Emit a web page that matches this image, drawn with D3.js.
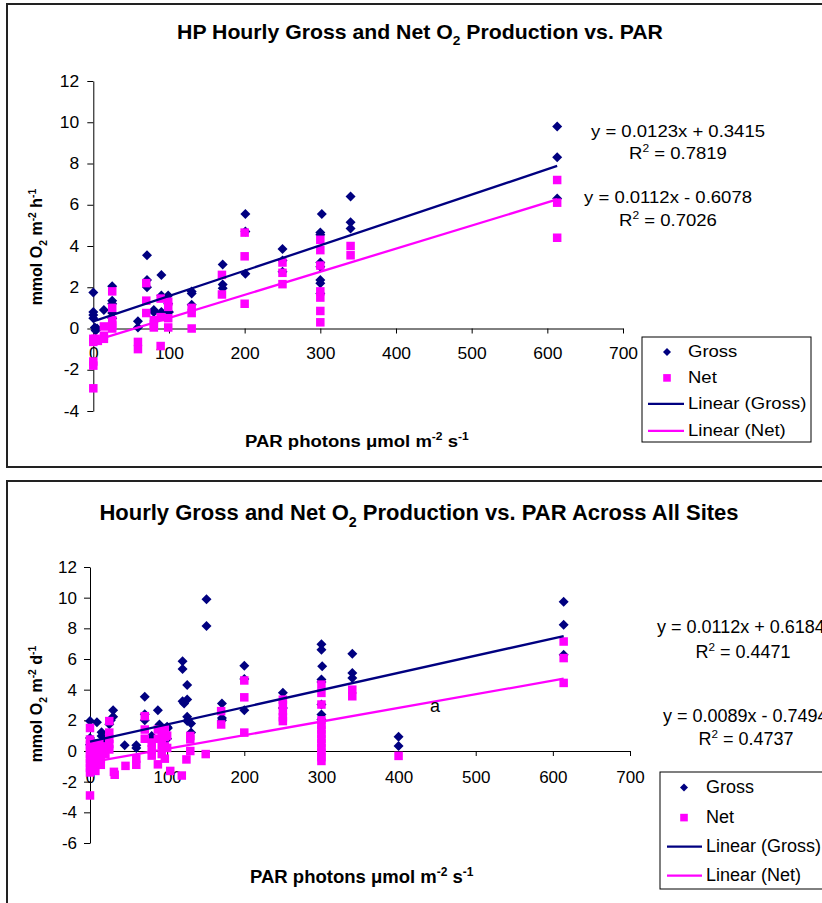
<!DOCTYPE html>
<html>
<head>
<meta charset="utf-8">
<script src="https://cdn.jsdelivr.net/npm/d3@7"></script>
<style>
body { margin: 0; background: #fff; }
svg { display: block; }
text { font-family: "Liberation Sans", Arial, sans-serif; fill: #000; }
</style>
</head>
<body>
<div id="chart"></div>
<script>
// HP site, hourly gross / net O2 production against PAR
var hpGrossPAR = [0, 0, 0, 0, 2, 4, 5, 3, 14, 25, 25, 25, 25, 25, 59, 59, 71, 71, 71, 80, 80, 90, 90, 90,
    99, 99, 100, 130, 130, 130, 171, 171, 171, 201, 201, 201, 250, 250, 250,
    302, 300, 300, 300, 300, 300, 300, 300, 340, 340, 340, 613, 613, 613];
var hpGross = [1.75, 0.8, 0.65, 0.5, 0.05, -0.05, 0.0, -0.1, 0.9, 2.05, 1.35, 1.2, 0.75, 0.5, 0.35, 0.05, 3.55, 2.35, 2.0, 0.9, 0.8, 2.6, 1.6, 0.8,
    1.6, 1.2, 0.8, 1.8, 1.7, 1.15, 3.1, 2.13, 1.95, 5.55, 4.7, 2.65, 3.85, 3.3, 2.75,
    5.55, 4.65, 4.55, 3.2, 3.0, 2.35, 2.2, 1.7, 6.4, 5.15, 4.85, 9.8, 8.3, 6.3];
var hpNetPAR = [0, 0, 0, 0, 0, 3, 6, 14, 14, 14, 25, 25, 25, 25, 25, 59, 59, 70, 70, 70, 80, 80, 80, 89, 89, 89,
    99, 99, 99, 99, 130, 130, 130, 170, 170, 200, 200, 200, 250, 250, 250,
    300, 300, 300, 300, 300, 300, 300, 340, 340, 613, 613, 613];
var hpNet = [-2.9, -1.8, -1.6, -0.65, -0.5, -0.5, -0.6, 0.1, -0.35, -0.5, 1.8, 1.0, 0.4, 0.15, 0.0, -0.65, -1.0, 2.2, 1.35, 0.75, 0.4, 0.05, 0.2, 1.45, 0.55, -0.85,
    1.3, 1.05, 0.5, 0.05, 1.0, 0.75, 0.0, 2.6, 1.65, 4.65, 3.5, 1.2, 3.2, 2.7, 2.15,
    4.3, 3.8, 3.05, 1.8, 1.5, 0.85, 0.3, 4.0, 3.55, 7.2, 6.1, 4.4];
// trendlines: [gross, net]
var hpSlope = [0.0123, 0.0112];
var hpIntercept = [0.3415, -0.6078];
var hpR2 = ["0.7819", "0.7026"];

// all sites pooled
var allGrossPAR = [0, 0, 0, 1, 9, 8, 15, 15, 18, 20, 25, 27, 30, 30, 45, 60, 60, 71, 71, 71, 80, 80, 88, 90, 95,
    100, 101, 100, 120, 120, 120, 122, 126, 126, 126, 126, 131, 131, 151, 151, 171, 171, 171, 200, 200, 200, 250, 250,
    300, 300, 301, 300, 300, 300, 300, 300, 340, 340, 340, 400, 400, 614, 614, 614];
var allGross = [1.95, 0.85, 0.4, 0.1, 1.88, 0.2, 1.23, 0.98, 0.7, 0.5, 1.75, 2.0, 2.66, 2.23, 0.37, 0.37, 0.2, 3.53, 2.4, 2.0, 0.98, 0.87, 2.66, 1.73, 1.0,
    1.58, 1.5, 0.8, 5.85, 5.35, 3.25, 3.1, 4.3, 3.36, 2.23, 1.95, 1.8, 1.2, 9.9, 8.15, 3.1, 2.16, 2.0, 5.56, 4.7, 2.66, 3.8, 2.8,
    6.97, 6.6, 5.52, 4.66, 4.5, 3.03, 2.38, 2.06, 6.34, 5.09, 4.76, 0.93, 0.33, 9.74, 8.23, 6.28];
var allNetPAR = [0, 0, 0, 0, 0, 0, 0, 0, 0, 0, 3, 3, 7, 7, 7, 7, 12, 12, 14, 14, 20, 20, 25, 25, 25, 25, 25, 31, 32, 46, 60, 60,
    71, 71, 71, 80, 80, 80, 88, 88, 88, 93, 93, 93, 97, 97, 97, 97, 100, 100, 104, 119, 125, 130, 130, 130, 150,
    170, 170, 200, 200, 200, 250, 250, 250, 250, 250,
    300, 300, 300, 300, 300, 300, 300, 300, 300, 300, 300, 300, 300, 340, 340, 400, 614, 614, 614];
var allNet = [1.5, 0.75, 0.4, 0.1, -0.2, -0.5, -0.8, -1.1, -1.4, -2.9, 0.5, -0.3, 0.2, -0.3, -0.8, -1.3, 0.5, 0.0, -0.5, -0.9, 0.3, -0.2, 1.95, 1.2, 0.8, 0.45, 0.1, -1.36, -1.55, -0.97, -0.5, -0.9,
    2.27, 1.4, 0.8, 0.55, 0.1, -0.3, 1.4, 0.8, -0.87, 1.1, 0.4, -0.2, 1.4, 0.9, 0.3, -0.5, 1.0, 0.2, -1.3, -1.6, -0.55, 0.98, 0.76, 0.0, -0.2,
    2.6, 1.73, 4.6, 3.5, 1.2, 3.35, 3.0, 2.6, 2.2, 1.95,
    4.33, 3.79, 3.03, 2.0, 1.7, 1.4, 1.1, 0.8, 0.5, 0.2, -0.1, -0.4, -0.65, 4.0, 3.57, -0.32, 7.14, 6.06, 4.44];
var allSlope = [0.0112, 0.0089];
var allIntercept = [0.6184, -0.7494];
var allR2 = ["0.4471", "0.4737"];

var parTicks = [0, 100, 200, 300, 400, 500, 600, 700];
var hpYTicks = [-4, -2, 0, 2, 4, 6, 8, 10, 12];
var allYTicks = [-6, -4, -2, 0, 2, 4, 6, 8, 10, 12];
var seriesNames = ["Gross", "Net", "Linear (Gross)", "Linear (Net)"];

var GROSS = "#000080", NET = "#ff00ff";

var svg = d3.select("#chart").append("svg")
    .attr("width", 822)
    .attr("height", 903);

// text with sub/superscript pieces, e.g. [["O"], ["2", "sub"]]
function richText(g, parts, size, bold) {
    var t = g.append("text")
        .attr("font-size", size)
        .attr("font-weight", bold ? "bold" : "normal");
    var shift = 0;
    parts.forEach(function(p) {
        var s = p[1] == "sub" ? size * 0.3 : p[1] == "sup" ? -size * 0.4 : 0;
        t.append("tspan")
            .attr("dy", s - shift)
            .attr("font-size", p[1] ? size * 0.65 : size)
            .text(p[0]);
        shift = s;
    });
    return t;
}

function place(t, x, y, sx, anchor) {
    t.attr("text-anchor", anchor || "start")
        .attr("transform", "translate(" + x + "," + y + ") scale(" + sx + ",1)");
    return t;
}

function eqText(slope, intercept) {
    return "y = " + slope + "x " + (intercept < 0 ? "- " : "+ ") + Math.abs(intercept);
}

function diamond(r) {
    return "M0," + (-r) + "L" + r + ",0L0," + r + "L" + (-r) + ",0Z";
}

// plain hyphen for negatives, as on the printed axes
function tickFmt(d) { return String(d); }

function drawChart(c) {
    var g = svg.append("g");

    g.append("rect")
        .attr("x", c.frame[0]).attr("y", c.frame[1])
        .attr("width", c.frame[2]).attr("height", c.frame[3])
        .attr("fill", "none").attr("stroke", "#222").attr("stroke-width", 2);

    place(richText(g, c.title, c.titleSize, true), c.titleX, c.titleY, c.sx, "middle");

    var x = d3.scaleLinear().domain([0, 700]).range(c.xRange);
    var y = d3.scaleLinear().domain(c.yDomain).range(c.yRange);

    // y axis
    var ya = g.append("g")
        .attr("transform", "translate(" + c.xRange[0] + ",0)")
        .call(d3.axisLeft(y).tickValues(c.yTicks).tickFormat(tickFmt)
            .tickSize(6).tickSizeOuter(0).tickPadding(c.yPad));
    ya.selectAll("text")
        .attr("font-size", c.tickSize)
        .attr("transform", "scale(" + c.sx + ",1)");

    // x axis sits on y = 0
    var xa = g.append("g")
        .attr("transform", "translate(0," + y(0) + ")")
        .call(d3.axisBottom(x).tickValues(parTicks).tickFormat(tickFmt)
            .tickSize(5).tickSizeOuter(0).tickPadding(c.xPad));
    xa.selectAll("text")
        .attr("font-size", c.tickSize)
        .attr("transform", "scale(" + c.sx + ",1)");
    g.selectAll(".tick text").attr("font-family", "'Liberation Sans', Arial, sans-serif");
    ya.attr("font-family", null);
    xa.attr("font-family", null);
    g.selectAll(".domain, .tick line").attr("stroke", "#000");

    // axis titles
    richText(g, c.yTitle, c.yTitleSize, true)
        .attr("text-anchor", "middle")
        .attr("transform", "translate(" + c.yTitleX + "," + c.yTitleY + ") rotate(-90)");
    place(richText(g, c.xTitle, c.xTitleSize, true), c.xTitleX, c.xTitleY, c.sx, "start");

    // points
    g.append("g").selectAll("path")
        .data(d3.zip(c.grossPAR, c.gross))
        .enter().append("path")
        .attr("d", diamond(c.dia))
        .attr("transform", function(d) { return "translate(" + x(d[0]) + "," + y(d[1]) + ")"; })
        .attr("fill", GROSS);

    g.append("g").selectAll("rect")
        .data(d3.zip(c.netPAR, c.net))
        .enter().append("rect")
        .attr("x", function(d) { return x(d[0]) - c.sq / 2; })
        .attr("y", function(d) { return y(d[1]) - c.sq / 2; })
        .attr("width", c.sq).attr("height", c.sq)
        .attr("fill", NET);

    // linear trendlines across the PAR range of each series
    var fits = [
        {m: c.slope[0], b: c.intercept[0], lo: d3.min(c.grossPAR), hi: d3.max(c.grossPAR), col: GROSS},
        {m: c.slope[1], b: c.intercept[1], lo: d3.min(c.netPAR), hi: d3.max(c.netPAR), col: NET}
    ];
    g.selectAll(".fit")
        .data(fits)
        .enter().append("line")
        .attr("class", "fit")
        .attr("x1", function(f) { return x(f.lo); })
        .attr("y1", function(f) { return y(f.m * f.lo + f.b); })
        .attr("x2", function(f) { return x(f.hi); })
        .attr("y2", function(f) { return y(f.m * f.hi + f.b); })
        .attr("stroke", function(f) { return f.col; })
        .attr("stroke-width", 2.3);

    // equations
    c.eqPos.forEach(function(p, i) {
        place(richText(g, [[eqText(c.slope[i], c.intercept[i])]], c.eqSize, false), p[0], p[1], c.sx, p[2]);
        place(richText(g, [["R"], ["2", "sup"], [" = " + c.r2[i]]], c.eqSize, false), p[3], p[4], c.sx, "middle");
    });

    // legend
    var L = c.legend;
    var lg = g.append("g");
    lg.append("rect")
        .attr("x", L.x).attr("y", L.y).attr("width", L.w).attr("height", L.h)
        .attr("fill", "#fff").attr("stroke", "#000").attr("stroke-width", 1);
    seriesNames.forEach(function(name, i) {
        var by = L.rows[i];
        if (i == 0) {
            lg.append("path").attr("d", diamond(4))
                .attr("transform", "translate(" + L.mx + "," + (by - c.legendSize * 0.3) + ")")
                .attr("fill", GROSS);
        } else if (i == 1) {
            lg.append("rect")
                .attr("x", L.mx - 3.8).attr("y", by - c.legendSize * 0.3 - 3.8)
                .attr("width", 7.6).attr("height", 7.6)
                .attr("fill", NET);
        } else {
            lg.append("line")
                .attr("x1", L.lx[0]).attr("x2", L.lx[1])
                .attr("y1", by - c.legendSize * 0.3).attr("y2", by - c.legendSize * 0.3)
                .attr("stroke", i == 2 ? GROSS : NET).attr("stroke-width", 2.3);
        }
        place(richText(lg, [[name]], c.legendSize, false), L.tx, by, c.sx, "start");
    });

    return g;
}

var top = drawChart({
    frame: [7, 4, 830, 463],
    sx: 1.09,
    title: [["HP Hourly Gross and Net O"], ["2", "sub"], [" Production vs. PAR"]],
    titleSize: 19.5, titleX: 420, titleY: 39,
    xRange: [93.3, 623], yDomain: [-4, 12], yRange: [411, 81], yTicks: hpYTicks,
    tickSize: 16, yPad: 7, xPad: 14,
    yTitle: [["mmol O"], ["2", "sub"], [" m"], ["-2", "sup"], [" h"], ["-1", "sup"]],
    yTitleSize: 16, yTitleX: 42, yTitleY: 247,
    xTitle: [["PAR photons "], ["\u03bcmol m"], ["-2", "sup"], [" s"], ["-1", "sup"]],
    xTitleSize: 17, xTitleX: 245, xTitleY: 447,
    grossPAR: hpGrossPAR, gross: hpGross, netPAR: hpNetPAR, net: hpNet,
    slope: hpSlope, intercept: hpIntercept, r2: hpR2,
    dia: 5, sq: 8.5,
    eqSize: 17,
    eqPos: [[678, 137, "middle", 678, 159], [668, 203, "middle", 668, 226]],
    legendSize: 17,
    legend: {x: 642, y: 337, w: 169, h: 105, rows: [357, 383, 409, 436], mx: 667, lx: [648, 684], tx: 688}
});

var bottom = drawChart({
    frame: [7, 481, 830, 440],
    sx: 1,
    title: [["Hourly Gross and Net O"], ["2", "sub"], [" Production vs. PAR Across All Sites"]],
    titleSize: 22, titleX: 419, titleY: 520,
    xRange: [90, 630], yDomain: [-6, 12], yRange: [843, 567], yTicks: allYTicks,
    tickSize: 17, yPad: 7, xPad: 15,
    yTitle: [["mmol O"], ["2", "sub"], [" m"], ["-2", "sup"], [" d"], ["-1", "sup"]],
    yTitleSize: 16, yTitleX: 42, yTitleY: 704,
    xTitle: [["PAR photons "], ["\u03bcmol m"], ["-2", "sup"], [" s"], ["-1", "sup"]],
    xTitleSize: 18.5, xTitleX: 250, xTitleY: 883,
    grossPAR: allGrossPAR, gross: allGross, netPAR: allNetPAR, net: allNet,
    slope: allSlope, intercept: allIntercept, r2: allR2,
    dia: 5, sq: 8.5,
    eqSize: 18,
    eqPos: [[657, 633, "start", 743, 658], [663, 722, "start", 746, 745]],
    legendSize: 18,
    legend: {x: 660, y: 772, w: 200, h: 117, rows: [793, 823, 852, 881], mx: 684, lx: [667, 702], tx: 706}
});

// stray label left on the pooled chart
bottom.append("text")
    .attr("x", 435).attr("y", 712)
    .attr("text-anchor", "middle")
    .attr("font-size", 18)
    .text("a");
</script>
</body>
</html>
